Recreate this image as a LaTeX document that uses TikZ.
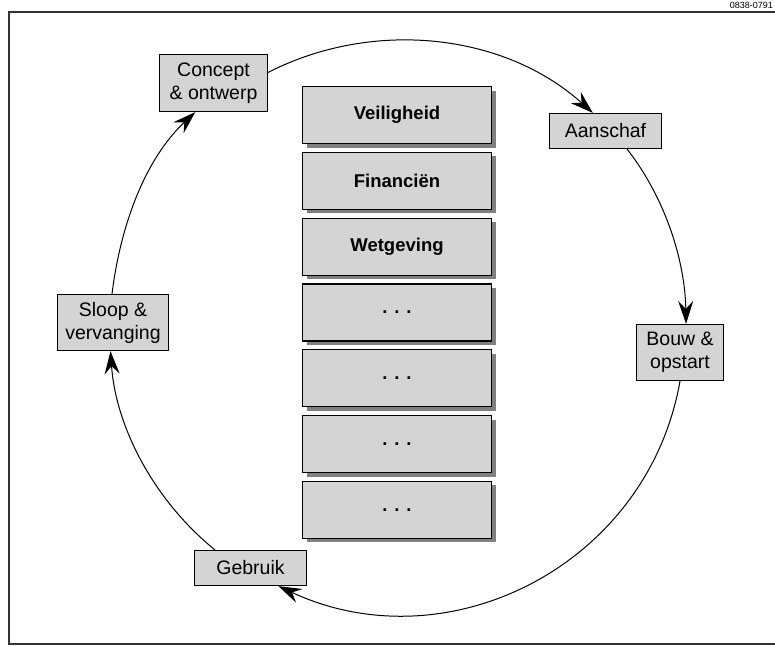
\documentclass[tikz,border=0pt]{standalone}
\usepackage{fontspec}
\setsansfont{Liberation Sans}
\usetikzlibrary{arrows.meta,shadows}
\definecolor{boxgray}{RGB}{212,212,212}
\definecolor{shadowgray}{RGB}{128,128,128}
\tikzset{
phase/.style = {rectangle, draw=black, fill=boxgray, line width=1.2pt,
                align=center, inner sep=2pt,
                font=\fontsize{19.5}{23}\selectfont\sffamily},
aspect/.style = {rectangle, draw=black, fill=boxgray, line width=1.2pt,
                 minimum width=189pt, minimum height=57pt,
                 font=\fontsize{18.5}{22}\selectfont\sffamily\bfseries,
                 drop shadow={shadow xshift=4pt, shadow yshift=-4pt,
                              fill=shadowgray, opacity=1}},
cyc/.style = {-{Stealth[length=23pt,width=15pt,inset=8pt]}, line width=1pt}
}

\begin{document}
\begin{tikzpicture}[x=1pt, y=-1pt]
\useasboundingbox (0,0) rectangle (775,646);

\draw[line width=1.3pt, draw=black!80] (9,12) rectangle (790,644);
\node[anchor=base east, inner sep=0pt, font=\fontsize{9}{10}\selectfont\sffamily] (fignum) at (773,8.5) {0838-0791};

% stack of aspects
\node[aspect] (veilig) at (397,115) {Veiligheid};
\node[aspect] (financ) at (397,180.8) {Financiën};
\node[aspect] (wetgev) at (397,246.6) {Wetgeving};
\node[aspect] (more1) at (397,312.4) {. . .};
\node[aspect] (more2) at (397,378.2) {. . .};
\node[aspect] (more3) at (397,444) {. . .};
\node[aspect] (more4) at (397,509.8) {. . .};

% life cycle phases
\node[phase, minimum width=108pt, minimum height=57pt] (concept) at (213.5,83) {Concept\\\& ontwerp};
\node[phase, minimum width=112pt, minimum height=35pt] (aanschaf) at (605.5,131) {Aanschaf};
\node[phase, minimum width=87pt, minimum height=56pt] (bouw) at (680,352.5) {Bouw \&\\opstart};
\node[phase, minimum width=112pt, minimum height=35pt] (gebruik) at (250.5,568) {Gebruik};
\node[phase, minimum width=111pt, minimum height=56pt] (sloop) at (113,322.5) {Sloop \&\\vervanging};

\draw [cyc] (concept.11) to[out=27, in=138, looseness=0.93] (aanschaf.125);
\draw [cyc] (aanschaf.320) to[out=-52, in=91, looseness=0.87] (bouw.78);
\draw [cyc] (bouw.south) to[out=-100, in=-25, looseness=1.06] (gebruik.327);
\draw [cyc] (gebruik.153) to[out=141, in=-86, looseness=0.88] (sloop.265);
\draw [cyc] (sloop.92) to[out=83, in=223, looseness=0.88] (concept.238);
\end{tikzpicture}
\end{document}
